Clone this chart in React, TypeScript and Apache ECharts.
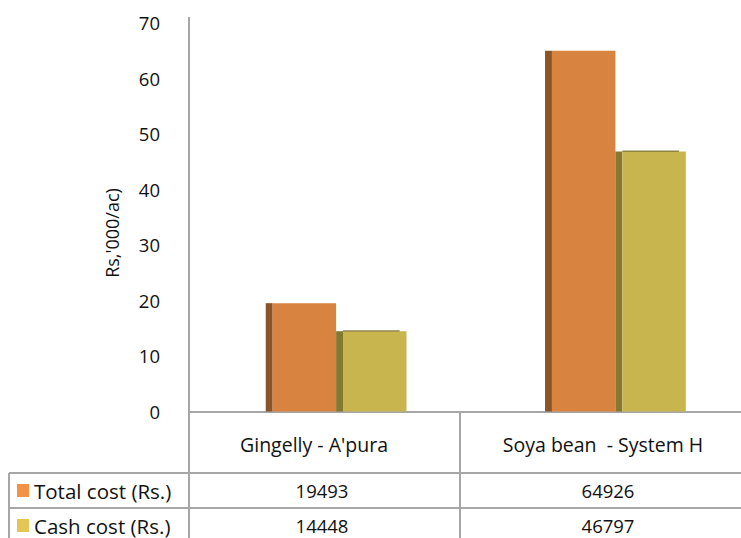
import React, { useEffect, useRef } from "react";
import * as echarts from "echarts";

const categories = ["Gingelly - A'pura", "Soya bean  - System H"];
const seriesNames = ["Total cost (Rs.)", "Cash cost (Rs.)"];
const totalCost = [19493, 64926];
const cashCost = [14448, 46797];
const yTicks = { min: 0, max: 70, interval: 10 };
const yAxisTitle = "Rs,'000/ac)";

const FONT = "'Open Sans', 'Noto Sans', sans-serif";
const FACE = ["#D8833F", "#C9B54D"];
const SIDE = ["#8B5426", "#837A30"];
const TOPLINE = ["#D8833F", "#8F8545"];
const KEY = ["#F39247", "#E3C653"];
const LINE = "#A6A6A6";

export default function App() {
  const ref = useRef<HTMLDivElement>(null);
  useEffect(() => {
    document.body.style.margin = "0";
    const chart = echarts.init(ref.current!, null, { renderer: "svg" });
    const seriesData = [totalCost, cashCost];
    const makeSeries = (si: number) => ({
      type: "custom",
      name: seriesNames[si],
      data: seriesData[si].map((v, i) => [i, v / 1000]),
      encode: { x: 0, y: 1 },
      renderItem: (params: any, api: any) => {
        const idx = api.value(0);
        const v = api.value(1);
        const top = api.coord([idx, v]);
        const base = api.coord([idx, 0]);
        const band = api.size([1, 0])[0];
        const sideW = band * 0.025;
        const faceW = band * 0.23;
        const left = top[0] - band * (idx === 0 ? 0.222 : 0.21) + si * (sideW + faceW);
        const h = base[1] - top[1];
        const children: any[] = [
          { type: "rect", shape: { x: left, y: top[1], width: sideW, height: h }, style: { fill: SIDE[si] } },
          { type: "rect", shape: { x: left + sideW, y: top[1], width: faceW, height: h }, style: { fill: FACE[si] } },
        ];
        if (si === 1) {
          children.push({
            type: "rect",
            shape: { x: left + sideW, y: top[1] - 1, width: faceW - sideW, height: 1.5 },
            style: { fill: TOPLINE[si] },
          });
        }
        return { type: "group", children };
      },
    });

    chart.setOption({
      animation: false,
      grid: { left: 189, top: 22.5, width: 556, bottom: 126.5, containLabel: false },
      xAxis: {
        type: "category",
        data: categories.map((c, i) =>
          i === 0 ? { value: c, textStyle: { padding: [0, 26, 0, 0] } } : c
        ),
        axisLine: { show: true, lineStyle: { color: LINE, width: 2 } },
        axisTick: { show: false },
        axisLabel: { fontFamily: FONT, fontSize: 19.5, color: "#111", margin: 23 },
        splitLine: { show: false },
      },
      yAxis: {
        type: "value",
        min: yTicks.min,
        max: yTicks.max,
        interval: yTicks.interval,
        axisLine: { show: false },
        axisTick: { show: false },
        splitLine: { show: false },
        axisLabel: { fontFamily: FONT, fontSize: 18.5, color: "#111", margin: 29 },
      },
      series: [makeSeries(0), makeSeries(1)],
    });

    const p0 = chart.convertToPixel({ gridIndex: 0 }, [0, 0]) as number[];
    const p1 = chart.convertToPixel({ gridIndex: 0 }, [1, 0]) as number[];
    const c0 = p0[0];
    const c1 = p1[0];
    const ax = c0 - (c1 - c0) / 2;
    const baseY = p0[1];
    const topAxis = (chart.convertToPixel({ gridIndex: 0 }, [0, yTicks.max]) as number[])[1];
    const centers = [c0, c1];
    const row1 = 473;
    const row2 = 508;
    const rowMid = [490.5, 525.5];
    const tableLeft = 9;
    const W = 741;
    const H = 538;
    const divX = (c0 + c1) / 2 - 5;

    const lines: any[] = [
      { type: "line", shape: { x1: ax, y1: topAxis - 5.5, x2: ax, y2: H }, style: { stroke: LINE, lineWidth: 2 } },
      { type: "line", shape: { x1: divX, y1: baseY, x2: divX, y2: H }, style: { stroke: LINE, lineWidth: 2 } },
      { type: "line", shape: { x1: tableLeft, y1: row1, x2: W, y2: row1 }, style: { stroke: LINE, lineWidth: 2 } },
      { type: "line", shape: { x1: tableLeft, y1: row2, x2: W, y2: row2 }, style: { stroke: LINE, lineWidth: 2 } },
      { type: "line", shape: { x1: tableLeft, y1: row1, x2: tableLeft, y2: H }, style: { stroke: LINE, lineWidth: 2 } },
    ];
    const texts: any[] = [];
    [totalCost, cashCost].forEach((arr, r) => {
      texts.push({
        type: "rect",
        shape: { x: 17, y: rowMid[r] - 6.5, width: 12, height: 13 },
        style: { fill: KEY[r] },
      });
      texts.push({
        type: "text",
        x: 34,
        y: rowMid[r],
        style: { text: seriesNames[r], font: `20.5px ${FONT}`, fill: "#111", verticalAlign: "middle", align: "left" },
      });
      arr.forEach((v, i) => {
        texts.push({
          type: "text",
          x: centers[i] + (i === 0 ? -5 : 5),
          y: rowMid[r],
          style: { text: String(v), font: `18.5px ${FONT}`, fill: "#111", verticalAlign: "middle", align: "center" },
        });
      });
    });
    texts.push({
      type: "text",
      x: 112,
      y: 233,
      rotation: Math.PI / 2,
      style: { text: yAxisTitle, font: `18px ${FONT}`, fill: "#111", verticalAlign: "middle", align: "center" },
    });

    chart.setOption({ graphic: [...lines, ...texts] });
    return () => chart.dispose();
  }, []);
  return <div ref={ref} style={{ width: 741, height: 538 }} />;
}
